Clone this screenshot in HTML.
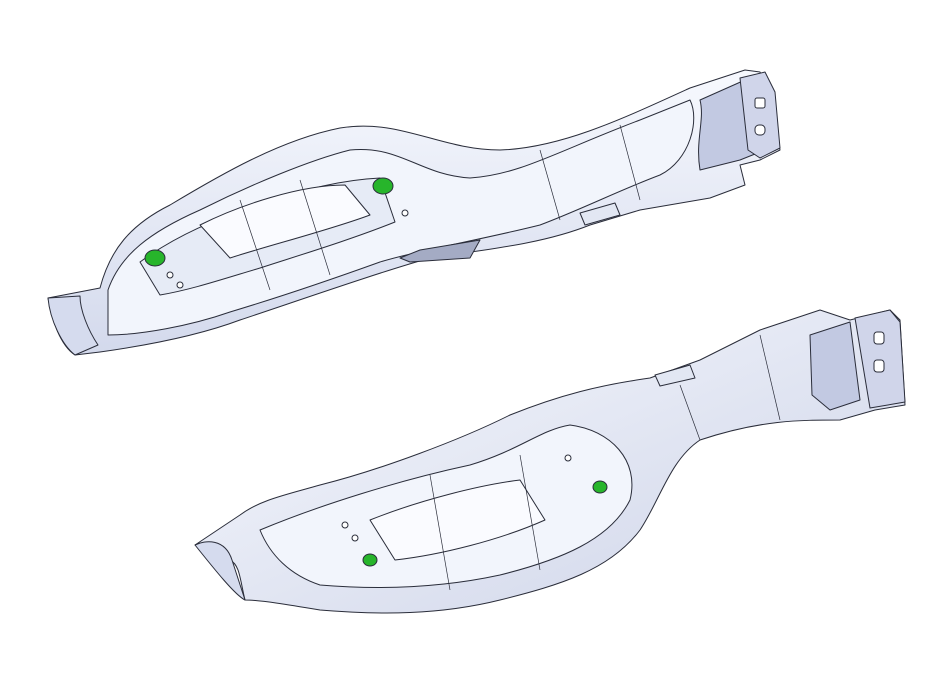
<!DOCTYPE html>
<html><head><style>html,body{margin:0;padding:0;background:#fff;width:947px;height:673px;overflow:hidden}</style></head>
<body>
<svg width="947" height="673" viewBox="0 0 947 673" xmlns="http://www.w3.org/2000/svg">
<defs>
<linearGradient id="g1" x1="0" y1="0" x2="0" y2="1"><stop offset="0" stop-color="#f7f9fe"/><stop offset="1" stop-color="#d3d9ec"/></linearGradient>
<linearGradient id="g2" x1="0" y1="0" x2="1" y2="1"><stop offset="0" stop-color="#f8fafe"/><stop offset="1" stop-color="#cdd3e8"/></linearGradient>
</defs>
<g stroke="#2a2d3a" stroke-width="1" stroke-linejoin="round">
<!-- TOP PART -->
<path d="M48,298 L100,288 C110,250 130,225 170,205 C220,175 280,140 340,128 C400,118 440,150 500,150 C560,148 620,120 690,88 L745,70 L760,72 L770,92 L780,150 L760,160 L740,165 L745,185 L710,198 L640,210 L590,225 C540,245 480,250 430,258 C380,272 300,300 240,320 C200,335 150,345 100,352 L75,355 C60,345 52,320 48,298 Z" fill="url(#g1)"/>
<path d="M108,290 C120,255 150,232 200,210 C250,185 310,160 350,150 C400,145 420,175 470,178 C520,175 560,150 640,120 L690,100 C700,120 690,160 660,175 C620,190 580,210 540,225 C480,240 420,250 380,262 C330,280 270,300 230,312 C190,326 140,335 108,335 Z" fill="#f2f5fc"/>
<path d="M140,262 C170,240 210,220 260,205 C300,190 340,180 380,178 L395,222 C350,240 300,255 260,268 C220,280 190,290 160,295 Z" fill="#e6ebf6"/>
<path d="M200,225 C240,205 300,185 345,185 L370,215 C330,230 270,245 230,258 Z" fill="#fafbff"/>
<path d="M700,100 L745,80 L760,95 L765,150 L740,160 L700,170 C695,140 705,120 700,100 Z" fill="#c2c9e2"/>
<path d="M740,78 L765,72 L775,92 L780,148 L760,158 L748,150 Z" fill="#d0d5ea"/>
<rect x="755" y="98" width="10" height="10" rx="2" fill="#fff"/>
<rect x="755" y="125" width="10" height="10" rx="4" fill="#fff"/>
<path d="M400,258 L420,250 L480,240 L470,258 L410,262 Z" fill="#a4abc4"/>
<path d="M580,213 L615,203 L620,215 L585,225 Z" fill="#e2e7f3"/>
<path d="M48,298 C50,320 62,345 75,355 L98,345 C88,330 80,310 80,296 Z" fill="#d5dbee"/>
<path d="M240,200 L270,290 M300,180 L330,275 M540,150 L560,220 M620,125 L640,200" fill="none" stroke-width="0.7"/>
<ellipse cx="155" cy="258" rx="10" ry="8" fill="#27b52b"/>
<ellipse cx="383" cy="186" rx="10" ry="8" fill="#27b52b"/>
<circle cx="170" cy="275" r="3" fill="#fff"/><circle cx="180" cy="285" r="3" fill="#fff"/><circle cx="405" cy="213" r="3" fill="#fff"/>
<!-- BOTTOM PART -->
<path d="M195,545 L240,515 C260,500 285,495 320,485 C380,470 460,440 510,415 C560,395 600,385 650,378 L700,360 L760,330 L820,310 L850,320 L890,310 L900,320 L905,405 L875,410 L840,420 C800,420 760,420 700,440 C670,460 660,500 640,530 C610,570 560,585 500,600 C440,615 380,615 320,610 C290,605 260,600 245,600 C240,580 240,565 230,560 Z" fill="url(#g2)"/>
<path d="M260,530 C320,505 400,480 470,465 C520,450 540,430 570,425 C610,430 640,460 630,500 C610,540 560,560 500,575 C440,588 380,590 320,585 C290,575 270,555 260,530 Z" fill="#f2f5fc"/>
<path d="M370,520 C420,500 480,485 520,480 L545,520 C500,540 440,555 395,560 Z" fill="#fafbff"/>
<path d="M810,335 L850,322 L860,400 L830,410 L812,395 Z" fill="#c2c9e2"/>
<path d="M855,318 L890,310 L900,322 L905,402 L870,408 Z" fill="#d0d5ea"/>
<rect x="874" y="332" width="10" height="12" rx="3" fill="#fff"/>
<rect x="874" y="360" width="10" height="12" rx="3" fill="#fff"/>
<path d="M655,375 L690,365 L695,378 L660,386 Z" fill="#e2e7f3"/>
<path d="M195,545 C205,540 225,538 232,560 L245,600 C235,595 215,570 195,545 Z" fill="#d5dbee"/>
<path d="M430,475 L450,590 M520,455 L540,570 M680,385 L700,440 M760,335 L780,420" fill="none" stroke-width="0.7"/>
<ellipse cx="600" cy="487" rx="7" ry="6" fill="#27b52b"/>
<ellipse cx="370" cy="560" rx="7" ry="6" fill="#27b52b"/>
<circle cx="345" cy="525" r="3" fill="#fff"/><circle cx="355" cy="538" r="3" fill="#fff"/><circle cx="568" cy="458" r="3" fill="#fff"/>
</g>
</svg>
</body></html>
